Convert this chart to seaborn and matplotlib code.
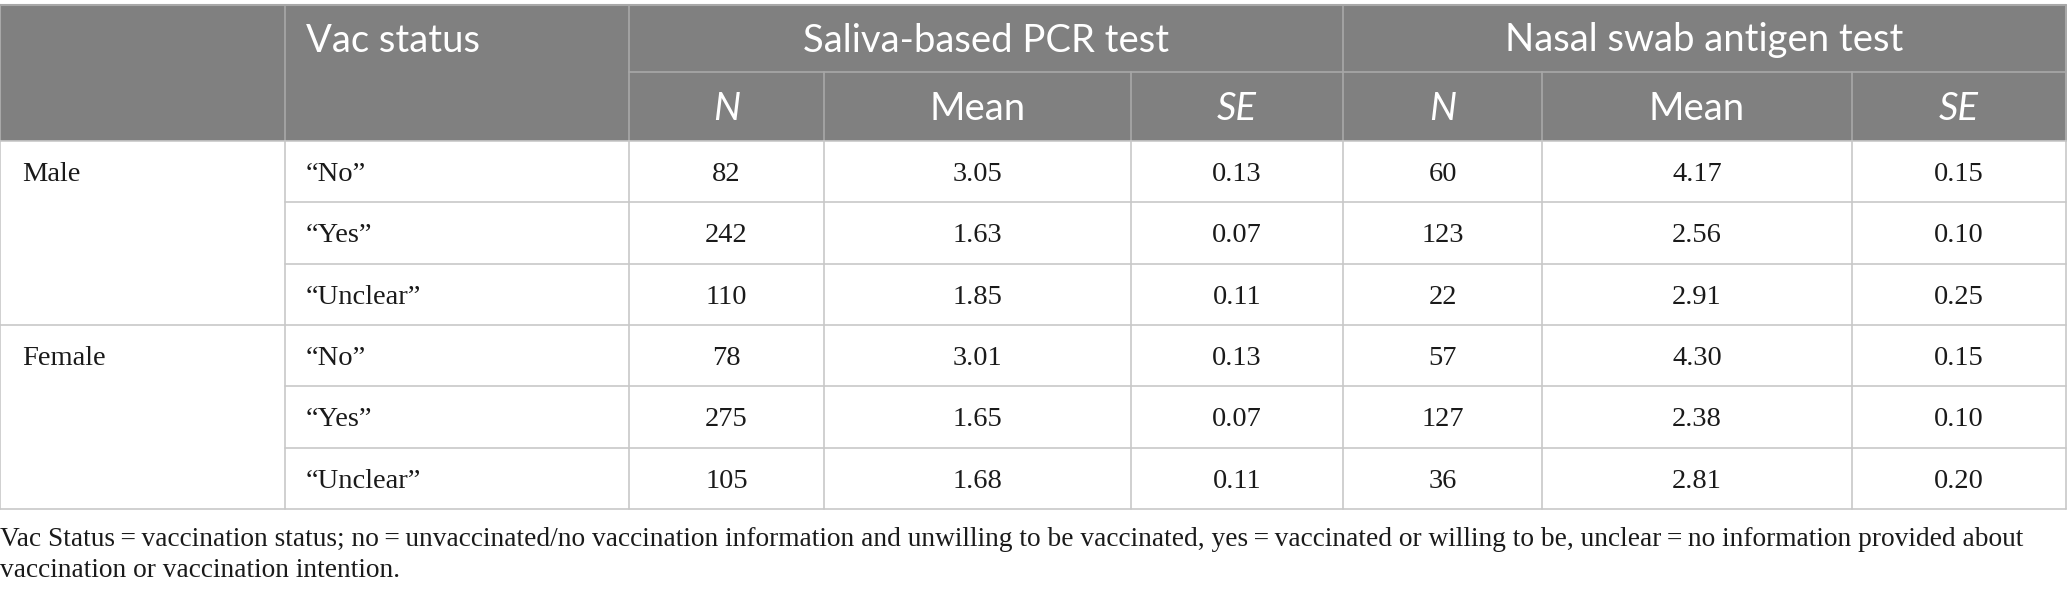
import numpy as np
import pandas as pd
import seaborn as sns
import matplotlib.pyplot as plt

# table content
sexes = ["Male", "Female"]
vac_status = ["\u201cNo\u201d", "\u201cYes\u201d", "\u201cUnclear\u201d"]
tests = ["Saliva-based PCR test", "Nasal swab antigen test"]
stat_labels = ["N", "Mean", "SE"]

pcr_n = [82, 242, 110, 78, 275, 105]
pcr_mean = [3.05, 1.63, 1.85, 3.01, 1.65, 1.68]
pcr_se = [0.13, 0.07, 0.11, 0.13, 0.07, 0.11]
ag_n = [60, 123, 22, 57, 127, 36]
ag_mean = [4.17, 2.56, 2.91, 4.30, 2.38, 2.81]
ag_se = [0.15, 0.10, 0.25, 0.15, 0.10, 0.20]

footnote_lines = [
    "Vac Status\u2009=\u2009vaccination status; no\u2009=\u2009unvaccinated/no vaccination information "
    "and unwilling to be vaccinated, yes\u2009=\u2009vaccinated or willing to be, unclear\u2009=\u2009no "
    "information provided about",
    "vaccination or vaccination intention.",
]

df = pd.DataFrame({
    "sex": np.repeat(sexes, len(vac_status)),
    "vac": vac_status * len(sexes),
    "pcr_n": pcr_n, "pcr_mean": pcr_mean, "pcr_se": pcr_se,
    "ag_n": ag_n, "ag_mean": ag_mean, "ag_se": ag_se,
})

sns.set_theme(style="white")
plt.rcParams["font.family"] = ["Liberation Serif", "DejaVu Serif"]

W, H = 2067, 599
fig = plt.figure(figsize=(W / 100, H / 100), dpi=100)
ax = fig.add_axes([0, 0, 1, 1])
ax.set_xlim(0, W)
ax.set_ylim(H, 0)
ax.axis("off")

# layout (pixels)
col_edges = [0, 285, 629, 824, 1131, 1343, 1542, 1852, 2066]
top, hmid, hbot = 5, 72, 141
row_h = 61.3
row_edges = [hbot + i * row_h for i in range(len(df) + 1)]

header_gray = "#808080"
grid_light = "#c8c8c8"
grid_head = "#a8a8a8"
sans = ["Lato", "DejaVu Sans"]
hsize = 27.5
bsize = 20.5
text_col = "#1a1a1a"

ax.axhspan(top, hbot, xmin=0, xmax=col_edges[-1] / W, color=header_gray, lw=0)

# header lines
ax.plot([0, col_edges[-1]], [top, top], color=grid_head, lw=1.5)
ax.plot([col_edges[2], col_edges[-1]], [hmid, hmid], color=grid_head, lw=1.2)
for x in [col_edges[1], col_edges[2], col_edges[5]]:
    ax.plot([x, x], [top, hbot], color=grid_head, lw=1.2)
for x in [col_edges[3], col_edges[4], col_edges[6], col_edges[7]]:
    ax.plot([x, x], [hmid, hbot], color=grid_head, lw=1.2)
ax.plot([0, 0], [top, hbot], color=grid_head, lw=1.5)
ax.plot([col_edges[-1], col_edges[-1]], [top, hbot], color=grid_head, lw=1.5)

# header text
ax.text(col_edges[1] + 21, (top + hmid) / 2 + 2, "Vac status", color="white",
        fontsize=hsize, family=sans, ha="left", va="center")
for i, t in enumerate(tests):
    x0, x1 = col_edges[2 + 3 * i], col_edges[5 + 3 * i]
    ax.text((x0 + x1) / 2, (top + hmid) / 2 + 2, t, color="white",
            fontsize=hsize, family=sans, ha="center", va="center")
    for j, s in enumerate(stat_labels):
        xa, xb = col_edges[2 + 3 * i + j], col_edges[3 + 3 * i + j]
        ax.text((xa + xb) / 2, (hmid + hbot) / 2 + 2, s, color="white",
                fontsize=hsize, family=sans, ha="center", va="center",
                style="normal" if s == "Mean" else "italic")

# body grid
for x in col_edges:
    ax.plot([x, x], [hbot, row_edges[-1]], color=grid_light, lw=1.2)
for k, y in enumerate(row_edges):
    x_start = 0 if k % len(vac_status) == 0 else col_edges[1]
    ax.plot([x_start, col_edges[-1]], [y, y], color=grid_light, lw=1.2)

# body text
value_cols = [("pcr_n", "{:d}"), ("pcr_mean", "{:.2f}"), ("pcr_se", "{:.2f}"),
              ("ag_n", "{:d}"), ("ag_mean", "{:.2f}"), ("ag_se", "{:.2f}")]
for r, row in df.iterrows():
    yc = (row_edges[r] + row_edges[r + 1]) / 2 + 3
    if r % len(vac_status) == 0:
        ax.text(col_edges[0] + 22, yc, row["sex"], fontsize=bsize,
                ha="left", va="center", color=text_col)
    ax.text(col_edges[1] + 21, yc, row["vac"], fontsize=bsize,
            ha="left", va="center", color=text_col)
    for c, (name, fmt) in enumerate(value_cols):
        xa, xb = col_edges[2 + c], col_edges[3 + c]
        ax.text((xa + xb) / 2, yc, fmt.format(row[name]), fontsize=bsize,
                ha="center", va="center", color=text_col)

for k, line in enumerate(footnote_lines):
    ax.text(0, 540 + 30.5 * k, line, fontsize=19.7, ha="left", va="center",
            color=text_col, family=["Liberation Serif", "DejaVu Serif"])

fig.savefig("out.png", dpi=100)
